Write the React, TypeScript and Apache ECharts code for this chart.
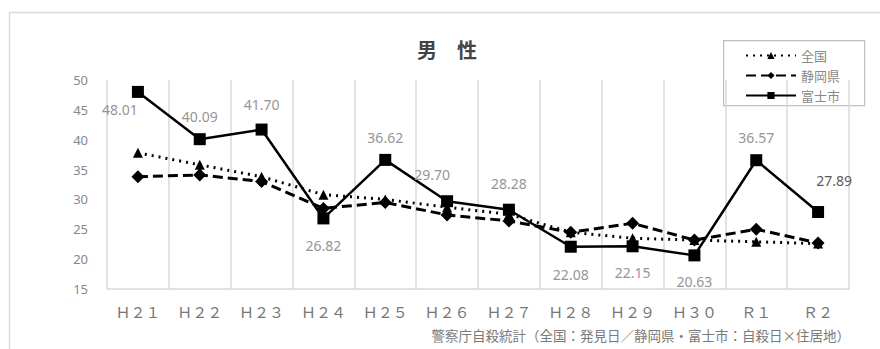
import React, { useEffect, useRef } from "react";
import * as echarts from "echarts";

const categories = ["Ｈ２１", "Ｈ２２", "Ｈ２３", "Ｈ２４", "Ｈ２５", "Ｈ２６", "Ｈ２７", "Ｈ２８", "Ｈ２９", "Ｈ３０", "Ｒ１", "Ｒ２"];
const zenkoku = [37.8, 35.8, 33.8, 30.8, 30.0, 28.7, 27.5, 24.5, 23.5, 23.2, 22.9, 22.6];
const shizuoka = [33.8, 34.1, 33.0, 28.5, 29.5, 27.4, 26.4, 24.5, 26.0, 23.2, 25.0, 22.7];
const fuji = [48.01, 40.09, 41.7, 26.82, 36.62, 29.7, 28.28, 22.08, 22.15, 20.63, 36.57, 27.89];
const seriesNames = ["全国", "静岡県", "富士市"];
const titleText = "男　性";
const sourceText = "警察庁自殺統計（全国：発見日／静岡県・富士市：自殺日×住居地）";

const FONT = "'Noto Sans CJK JP', 'Noto Sans', sans-serif";
const NUM_FONT = "'Noto Sans', 'Open Sans', sans-serif";

// label placement per Fuji point: [position, offsetX, offsetY, distance]
const fujiLabelPos: [string, number, number, number][] = [
  ["bottom", -18, 0, 5],
  ["top", 0, 0, 10],
  ["top", 0, 0, 12],
  ["bottom", 0, 0, 14],
  ["top", 0, 0, 9],
  ["top", -15, 0, 14],
  ["top", 0, 0, 13],
  ["bottom", 0, 0, 15],
  ["bottom", 0, 0, 13],
  ["bottom", 0, 0, 13],
  ["top", 0, 0, 10],
  ["top", 16, -14, 5],
];

export default function App() {
  const ref = useRef<HTMLDivElement>(null);
  useEffect(() => {
    if (!ref.current) return;
    const chart = echarts.init(ref.current, null, { renderer: "svg" });
    const fujiData = fuji.map((v, i) => {
      const [pos, ox, oy, dist] = fujiLabelPos[i];
      return {
        value: v,
        label: {
          show: true,
          position: pos,
          offset: [ox, oy],
          distance: dist,
          formatter: v.toFixed(2),
          color: i === 11 ? "#5a5a5a" : "#959595",
          fontSize: 14,
          fontWeight: "normal",
          fontFamily: NUM_FONT,
        },
      };
    });
    chart.setOption({
      animation: false,
      backgroundColor: "#fff",
      textStyle: { fontFamily: FONT },
      title: {
        text: titleText,
        left: 412,
        top: 34,
        textStyle: { fontSize: 20, fontWeight: 600, color: "#444", fontFamily: FONT },
      },
      legend: {
        orient: "vertical",
        left: 740,
        top: 44,
        itemWidth: 50,
        itemHeight: 9,
        itemGap: 7,
        textStyle: { color: "#8a8a8a", fontSize: 13, fontFamily: FONT },
        data: seriesNames,
      },
      grid: { left: 107, right: 31, top: 80, bottom: 60, containLabel: false },
      xAxis: {
        type: "category",
        data: categories,
        boundaryGap: true,
        axisLine: { lineStyle: { color: "#d9d9d9", width: 1.5 } },
        axisTick: { show: false },
        splitLine: { show: true, lineStyle: { color: "#d9d9d9", width: 1.5 } },
        axisLabel: { color: "#777", fontSize: 15, margin: 15, fontFamily: FONT },
      },
      yAxis: {
        type: "value",
        min: 15,
        max: 50,
        interval: 5,
        axisLine: { show: false },
        axisTick: { show: false },
        splitLine: { show: false },
        axisLabel: { color: "#888", fontSize: 13, margin: 19, fontFamily: NUM_FONT },
      },
      series: [
        {
          name: seriesNames[0],
          type: "line",
          data: zenkoku,
          symbol: "triangle",
          symbolSize: 10,
          lineStyle: { color: "#000", width: 3, type: [2, 5] },
          itemStyle: { color: "#000" },
          z: 2,
        },
        {
          name: seriesNames[1],
          type: "line",
          data: shizuoka,
          symbol: "diamond",
          symbolSize: 13,
          lineStyle: { color: "#000", width: 3, type: [10, 5] },
          itemStyle: { color: "#000" },
          z: 3,
        },
        {
          name: seriesNames[2],
          type: "line",
          data: fujiData,
          symbol: "rect",
          symbolSize: 12,
          lineStyle: { color: "#000", width: 2.5, type: "solid" },
          itemStyle: { color: "#000" },
          z: 4,
        },
      ],
      graphic: [
        {
          type: "rect",
          left: 7,
          top: 10,
          shape: { width: 900, height: 400 },
          style: { fill: "none", stroke: "#d9d9d9", lineWidth: 1.5 },
          silent: true,
          z: -1,
        },
        {
          type: "rect",
          left: 723,
          top: 40,
          shape: { width: 141, height: 65 },
          style: { fill: "#fff", stroke: "#bfbfbf", lineWidth: 1.2 },
          silent: true,
          z: 0,
        },
        {
          type: "text",
          right: 30,
          top: 328,
          style: { text: sourceText, fontSize: 13.5, fill: "#7a7a7a", fontFamily: FONT },
          silent: true,
        },
      ],
    });
    return () => chart.dispose();
  }, []);
  return (
    <div
      ref={ref}
      style={{ position: "fixed", left: 0, top: 0, width: 880, height: 349 }}
    />
  );
}
